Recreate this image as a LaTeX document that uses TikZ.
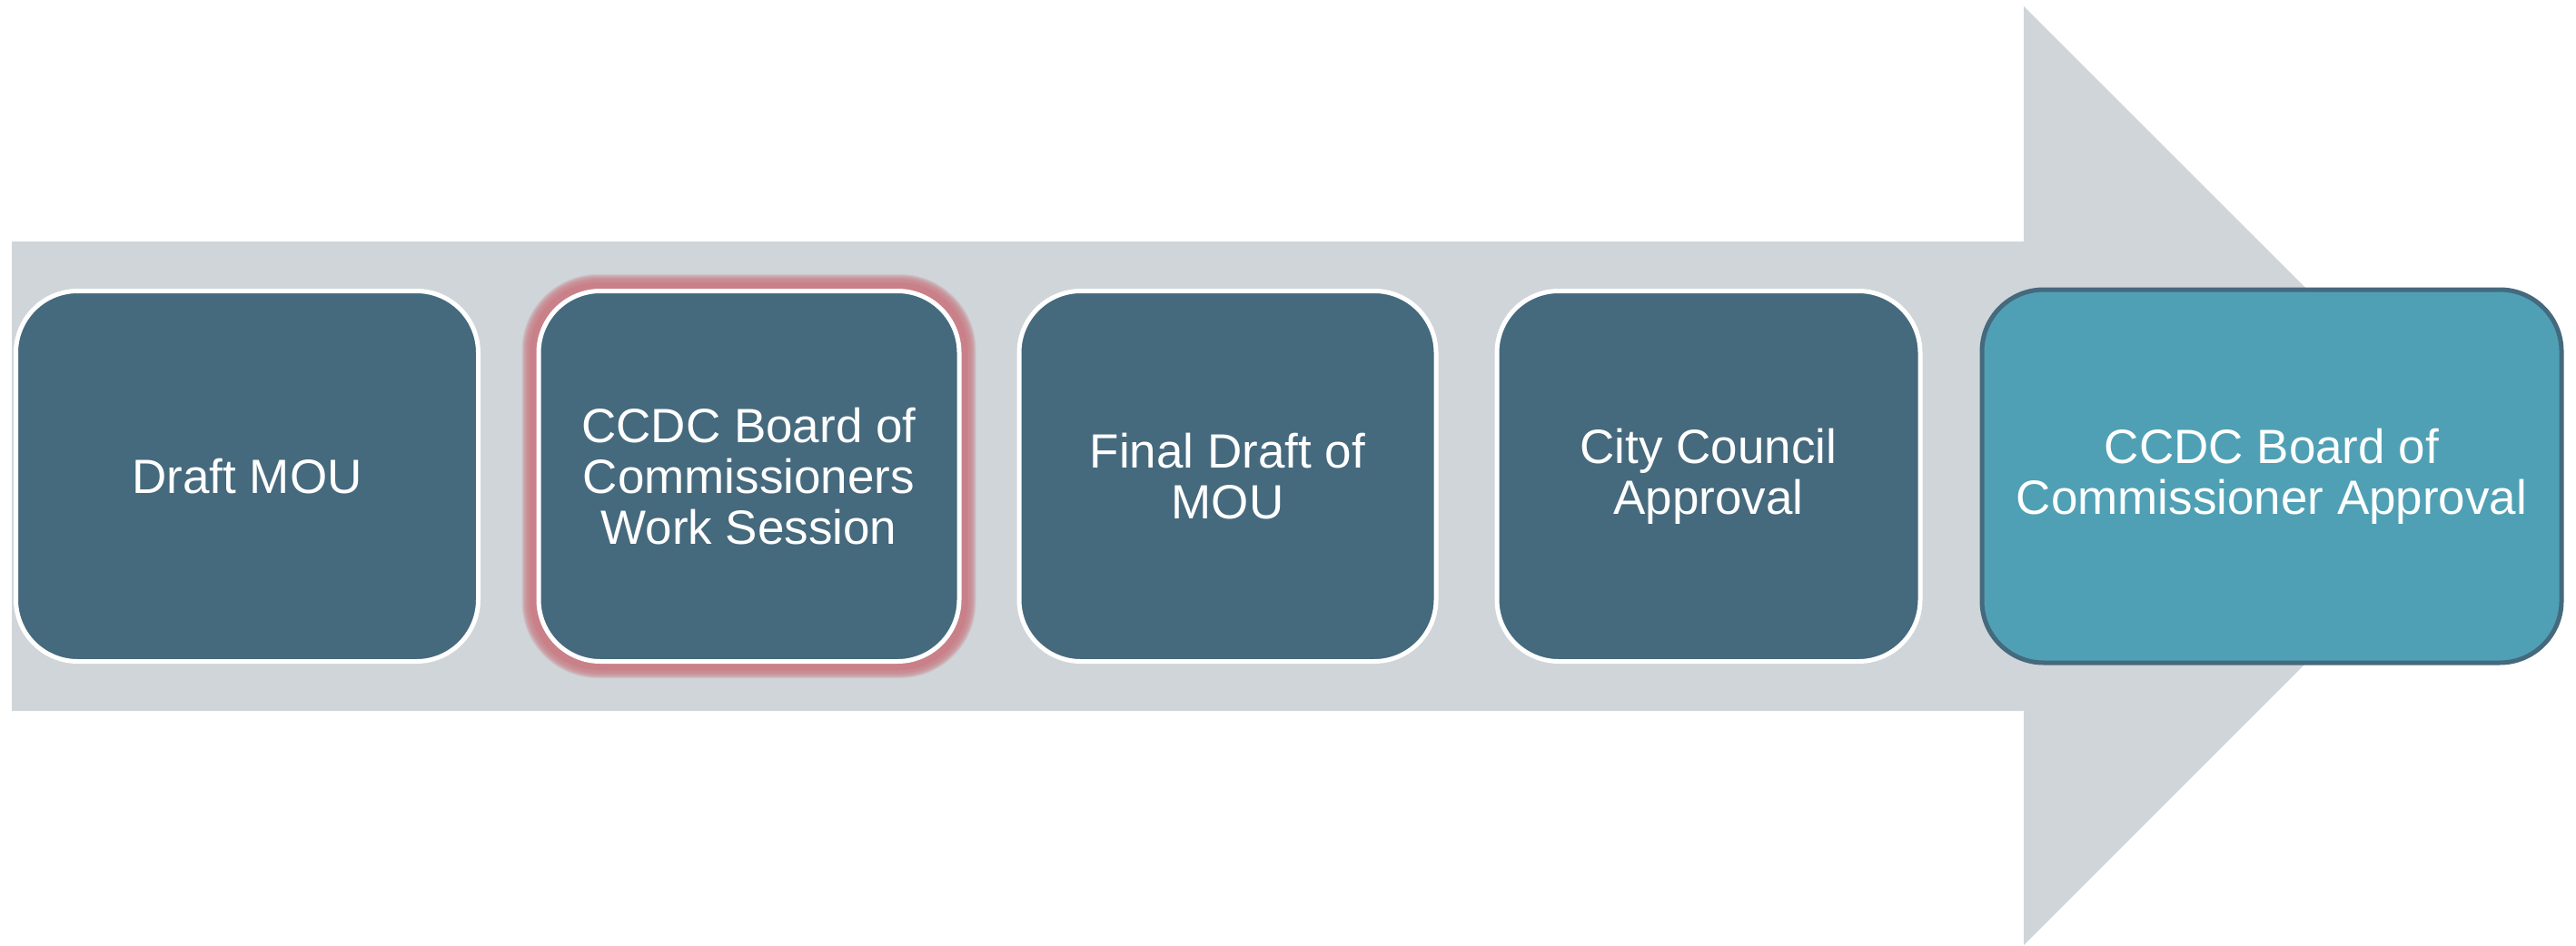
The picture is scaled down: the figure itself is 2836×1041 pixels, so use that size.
\documentclass[tikz,border=0pt]{standalone}
\usepackage{fontspec}
\setmainfont{Liberation Sans}
\usetikzlibrary{backgrounds}
\definecolor{arrowgray}{HTML}{CFD5D8}
\definecolor{slate}{HTML}{45697D}
\definecolor{teal}{HTML}{4FA0B5}
\definecolor{glowred}{HTML}{C98088}
\tikzset{
  stepbox/.style={rectangle, rounded corners=68pt, fill=slate, draw=white,
    line width=5pt, minimum height=408pt, text=white, align=center,
    font=\fontsize{53}{56}\selectfont, inner sep=0pt},
  finalbox/.style={stepbox, fill=teal, draw=slate}
}
\begin{document}
\begin{tikzpicture}[x=1pt,y=-1pt]
\useasboundingbox (0,0) rectangle (2836,1041);

% process steps
\node[stepbox, minimum width=509pt] (s1) at (272,524.5) {Draft MOU};
\node[stepbox, minimum width=463pt] (s2) at (824.5,524.5) {CCDC Board of\\Commissioners\\Work Session};
\node[stepbox, minimum width=459pt] (s3) at (1351.5,524.5) {Final Draft of\\MOU};
\node[stepbox, minimum width=466pt] (s4) at (1881,524.5) {City Council\\Approval};
\node[finalbox, minimum width=638pt, minimum height=411pt] (s5) at (2501,524.5) {CCDC Board of\\Commissioner Approval};

\begin{scope}[on background layer]
  % large block arrow behind the steps
  \fill[arrowgray] (13,266) -- (2228,266) -- (2228,7) -- (2745,524) --
    (2228,1041) -- (2228,783) -- (13,783) -- cycle;
  % soft red halo around the highlighted step
  \foreach \w in {32,30,28,26,24,22,20,18}{
    \draw[glowred, opacity=0.22, line width=\w pt, rounded corners=68pt]
      (s2.south west) rectangle (s2.north east);
  }
  \draw[glowred, line width=14pt, rounded corners=68pt]
    (s2.south west) rectangle (s2.north east);
\end{scope}
\end{tikzpicture}
\end{document}
